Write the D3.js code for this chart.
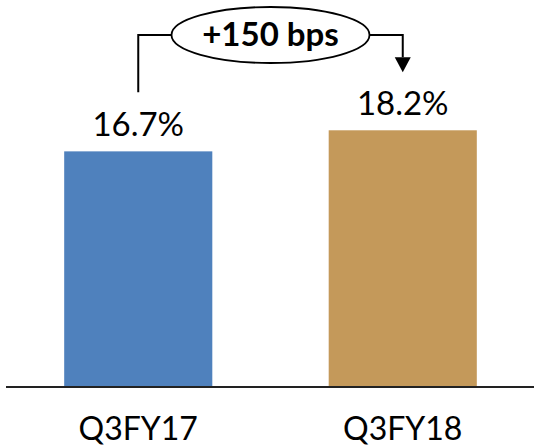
<!DOCTYPE html>
<html>
<head>
<meta charset="utf-8">
<script src="https://cdn.jsdelivr.net/npm/d3@7"></script>
<style>
  html, body { margin: 0; padding: 0; background: #fff; }
  svg { display: block; }
</style>
</head>
<body>
<svg id="chart" width="534" height="448"></svg>
<script>
const categories = ["Q3FY17", "Q3FY18"];
const values = [16.7, 18.2];
const valueLabels = ["16.7%", "18.2%"];
const barColors = ["#4F81BD", "#C4995A"];
const changeLabel = "+150 bps";

const svg = d3.select("#chart");
const W = 534, H = 448;
const baseY = 386;

const x = d3.scaleBand().domain(categories).range([6, 535])
  .paddingInner(0.44).paddingOuter(0.22);
const y = d3.scaleLinear().domain([0, 20]).range([baseY, baseY - 281]);

const font = "Lato, 'Open Sans', sans-serif";

// bars
svg.selectAll("rect.bar").data(values).join("rect")
  .attr("class", "bar")
  .attr("x", (d, i) => x(categories[i]))
  .attr("width", x.bandwidth())
  .attr("y", d => y(d))
  .attr("height", d => y(0) - y(d))
  .attr("fill", (d, i) => barColors[i]);

// baseline
svg.append("line")
  .attr("x1", 6).attr("x2", W)
  .attr("y1", baseY + 1).attr("y2", baseY + 1)
  .attr("stroke", "#222").attr("stroke-width", 2);

// value labels
svg.selectAll("text.val").data(values).join("text")
  .attr("class", "val")
  .attr("x", (d, i) => x(categories[i]) + x.bandwidth() / 2)
  .attr("y", d => y(d) - 15)
  .attr("text-anchor", "middle")
  .attr("font-family", font)
  .attr("font-size", 33)
  .attr("fill", "#000")
  .text((d, i) => valueLabels[i]);

// category labels
svg.selectAll("text.cat").data(categories).join("text")
  .attr("class", "cat")
  .attr("x", d => x(d) + x.bandwidth() / 2)
  .attr("y", 440)
  .attr("text-anchor", "middle")
  .attr("font-family", font)
  .attr("font-size", 32)
  .attr("fill", "#000")
  .text(d => d);

// annotation bracket
const cx0 = x(categories[0]) + x.bandwidth() / 2;
const cx1 = x(categories[1]) + x.bandwidth() / 2;
const ecx = (cx0 + cx1) / 2, ecy = 35, rx = 99, ry = 28;
const leftBottom = y(values[0]) - 59;
const arrowTip = y(values[1]) - 58;

svg.append("path")
  .attr("d", `M${cx0},${leftBottom} V${ecy} H${ecx - rx}`)
  .attr("fill", "none").attr("stroke", "#000").attr("stroke-width", 2);
svg.append("path")
  .attr("d", `M${ecx + rx},${ecy} H${cx1} V${arrowTip - 15}`)
  .attr("fill", "none").attr("stroke", "#000").attr("stroke-width", 2);
svg.append("path")
  .attr("d", `M${cx1 - 8},${arrowTip - 15} L${cx1 + 8},${arrowTip - 15} L${cx1},${arrowTip} Z`)
  .attr("fill", "#000");

svg.append("ellipse")
  .attr("cx", ecx).attr("cy", ecy).attr("rx", rx).attr("ry", ry)
  .attr("fill", "#fff").attr("stroke", "#000").attr("stroke-width", 1.8);

svg.append("text")
  .attr("x", ecx).attr("y", 46)
  .attr("text-anchor", "middle")
  .attr("font-family", font)
  .attr("font-weight", "bold")
  .attr("font-size", 33)
  .attr("fill", "#000")
  .text(changeLabel);
</script>
</body>
</html>
